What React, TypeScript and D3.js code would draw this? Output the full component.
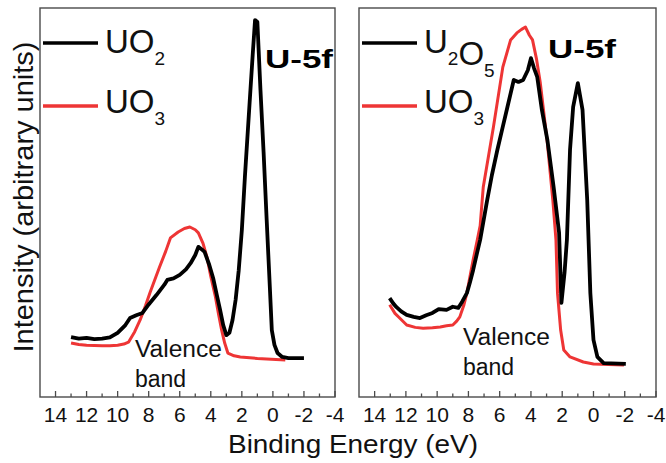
import React from "react";
import * as d3 from "d3";

// ---- data (binding energy eV, intensity arb. units) ----
const leftUO2: [number, number][] = [
  [13.0, 15.4], [12.5, 15.0], [12.0, 15.2], [11.5, 14.9], [11.0, 15.0], [10.5, 15.3],
  [10.0, 16.5], [9.5, 18.5], [9.2, 20.3], [8.8, 21.0], [8.4, 21.6], [8.0, 23.8],
  [7.5, 26.2], [7.0, 28.8], [6.8, 30.1], [6.4, 30.5], [6.0, 31.4], [5.6, 32.8],
  [5.3, 34.4], [5.0, 36.5], [4.8, 38.6], [4.6, 38.0], [4.4, 37.3], [4.1, 34.0],
  [3.85, 30.6], [3.6, 26.0], [3.4, 22.4], [3.2, 18.5], [3.0, 15.9], [2.8, 16.5],
  [2.6, 19.8], [2.4, 25.0], [2.2, 32.6], [2.0, 42.9], [1.8, 56.8], [1.5, 75.6],
  [1.3, 88.0], [1.15, 96.9], [1.0, 96.4], [0.8, 78.9], [0.6, 63.0], [0.4, 45.5],
  [0.2, 28.5], [0.07, 17.2], [-0.1, 13.4], [-0.3, 11.3], [-0.6, 10.3], [-1.0, 10.0],
  [-2.0, 10.0],
];
const leftUO3: [number, number][] = [
  [13.0, 13.9], [12.5, 13.5], [12.0, 13.3], [11.0, 13.2], [10.5, 13.2], [10.0, 13.3],
  [9.6, 13.6], [9.3, 14.1], [8.9, 16.8], [8.55, 19.8], [8.2, 23.5], [7.9, 27.0],
  [7.6, 30.2], [7.3, 33.4], [6.9, 37.5], [6.6, 40.9], [6.1, 42.4], [5.7, 43.3],
  [5.35, 43.7], [5.0, 43.0], [4.8, 42.2], [4.5, 39.5], [4.25, 36.0], [4.0, 31.0],
  [3.7, 25.7], [3.5, 21.3], [3.3, 17.2], [3.1, 13.8], [2.9, 11.3], [2.5, 10.6],
  [2.1, 10.3], [1.0, 9.9], [0.4, 9.8], [-0.8, 9.5],
];
const rightU2O5: [number, number][] = [
  [13.04, 25.4], [12.8, 24.0], [12.6, 23.1], [12.3, 22.0], [11.95, 21.1], [11.5, 20.6],
  [11.1, 20.3], [10.7, 21.0], [10.3, 21.6], [9.9, 22.6], [9.4, 22.4], [9.0, 23.2],
  [8.65, 22.9], [8.4, 24.5], [8.1, 26.7], [7.9, 29.5], [7.7, 32.6], [7.45, 37.0],
  [7.25, 40.4], [6.8, 50.6], [6.5, 57.0], [6.15, 63.5], [5.8, 69.5], [5.5, 74.6],
  [5.1, 81.5], [4.8, 81.0], [4.5, 81.5], [4.2, 84.0], [4.0, 87.1], [3.8, 84.5],
  [3.6, 82.3], [3.3, 73.8], [2.95, 66.1], [2.55, 54.0], [2.2, 42.2], [2.05, 24.2],
  [1.85, 32.0], [1.7, 40.4], [1.5, 63.5], [1.3, 74.6], [1.0, 80.7], [0.7, 73.8],
  [0.4, 50.6], [0.2, 26.7], [0.0, 14.7], [-0.25, 10.3], [-0.65, 8.7], [-2.07, 8.5],
];
const rightUO3: [number, number][] = [
  [13.04, 23.7], [12.7, 21.5], [12.4, 20.3], [11.95, 18.5], [11.4, 17.9], [10.9, 17.7],
  [10.3, 17.8], [9.8, 18.0], [9.4, 18.3], [9.0, 18.5], [8.75, 19.5], [8.55, 20.6],
  [8.3, 23.5], [8.1, 26.7], [7.9, 31.0], [7.7, 35.2], [7.45, 40.0], [7.25, 44.0],
  [7.05, 54.0], [6.4, 69.4], [5.8, 84.8], [5.3, 91.8], [4.9, 93.6], [4.6, 94.5],
  [4.35, 95.1], [4.1, 93.0], [3.9, 91.8], [3.65, 87.0], [3.4, 80.7], [2.95, 65.3],
  [2.6, 50.6], [2.4, 40.4], [2.3, 26.7], [2.1, 17.2], [1.9, 12.1], [1.5, 10.3],
  [0.65, 9.0], [0.0, 8.5], [-1.95, 8.2],
];

const majorTicks = [14, 12, 10, 8, 6, 4, 2, 0, -2, -4];
const minorTicks = [13, 11, 9, 7, 5, 3, 1, -1, -3];
const xDomain: [number, number] = [15, -4];
const yDomain: [number, number] = [0, 100];

const leftLegend = [
  { main: ["U", "O"], subs: ["", "2"], color: "#000000" },
  { main: ["U", "O"], subs: ["", "3"], color: "#ee3535" },
];
const rightLegend = [
  { main: ["U", "O"], subs: ["2", "5"], color: "#000000" },
  { main: ["U", "O"], subs: ["", "3"], color: "#ee3535" },
];

const FONT = "Liberation Sans, Arial, sans-serif";
const TOP = 8;
const BOTTOM = 397;

function Panel({ x0, x1, black, red, legend, u5fX, u5fY, valX, valY }: any) {
  const x = d3.scaleLinear().domain(xDomain).range([x0, x1]);
  const y = d3.scaleLinear().domain(yDomain).range([BOTTOM, TOP]);
  const line = d3
    .line<[number, number]>()
    .x((d) => x(d[0]))
    .y((d) => y(d[1]))
    .curve(d3.curveLinear);
  const frame = "#4a4a4a";
  return (
    <g>
      <path d={line(red) || ""} fill="none" stroke="#ee3535" strokeWidth={3} strokeLinejoin="round" />
      <path d={line(black) || ""} fill="none" stroke="#000" strokeWidth={3.8} strokeLinejoin="round" />
      {/* frame */}
      <rect x={x0} y={TOP} width={x1 - x0} height={BOTTOM - TOP} fill="none" stroke={frame} strokeWidth={1.4} />
      {majorTicks.map((t) => (
        <g key={"M" + t}>
          <line x1={x(t)} x2={x(t)} y1={BOTTOM} y2={BOTTOM - 6} stroke={frame} strokeWidth={1.3} />
          <text x={x(t)} y={422} fontFamily={FONT} fontSize={21} textAnchor="middle" fill="#111">
            {t < 0 ? "-" + Math.abs(t) : String(t)}
          </text>
        </g>
      ))}
      {minorTicks.map((t) => (
        <line key={"m" + t} x1={x(t)} x2={x(t)} y1={BOTTOM} y2={BOTTOM - 3.5} stroke={frame} strokeWidth={1.3} />
      ))}
      {/* legend */}
      {legend.map((l: any, i: number) => {
        const ly = i === 0 ? 43 : 106;
        const by = i === 0 ? 53 : 113;
        return (
          <g key={"l" + i}>
            <line x1={x0 + 3} x2={x0 + 58} y1={ly} y2={ly} stroke={l.color} strokeWidth={3.5} />
            <text x={x0 + 65} y={by} fontFamily={FONT} fontSize={33} fill="#111">
              {l.main.map((m: string, j: number) => (
                <React.Fragment key={j}>
                  <tspan>{m}</tspan>
                  {l.subs[j] ? (
                    <tspan fontSize={19} dy={12}>{l.subs[j]}</tspan>
                  ) : null}
                  {l.subs[j] ? <tspan dy={-12}>{""}</tspan> : null}
                </React.Fragment>
              ))}
            </text>
          </g>
        );
      })}
      <text x={u5fX} y={u5fY} fontFamily={FONT} fontSize={25} fontWeight="bold" fill="#000"
        textLength={68} lengthAdjust="spacingAndGlyphs">U-5f</text>
      <text x={valX} y={valY} fontFamily={FONT} fontSize={23} fill="#111"
        textLength={87} lengthAdjust="spacingAndGlyphs">Valence</text>
      <text x={valX} y={valY + 30} fontFamily={FONT} fontSize={23} fill="#111">band</text>
    </g>
  );
}

export default function App() {
  return (
    <svg width={666} height={463} style={{ position: "absolute", left: 0, top: 0, background: "#fff" }}>
      <rect x={0} y={0} width={666} height={463} fill="#fff" />
      <Panel x0={40} x1={335} black={leftUO2} red={leftUO3} legend={leftLegend}
        u5fX={265} u5fY={68} valX={135} valY={357} />
      <Panel x0={359} x1={656} black={rightU2O5} red={rightUO3} legend={rightLegend}
        u5fX={548} u5fY={58} valX={463} valY={345} />
      <text x={353} y={453} fontFamily={FONT} fontSize={25} textAnchor="middle" fill="#111"
        textLength={250} lengthAdjust="spacingAndGlyphs">Binding Energy (eV)</text>
      <text transform="translate(33,197) rotate(-90)" fontFamily={FONT} fontSize={28} textAnchor="middle" fill="#111"
        textLength={311} lengthAdjust="spacingAndGlyphs">Intensity (arbitrary units)</text>
    </svg>
  );
}
